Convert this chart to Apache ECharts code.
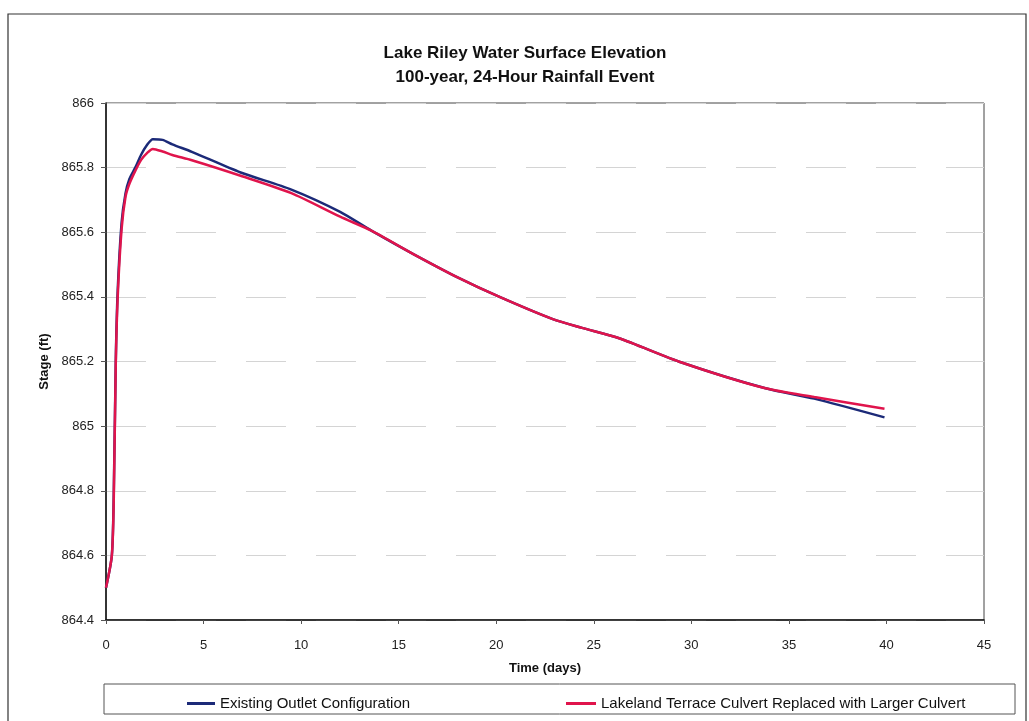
<!DOCTYPE html>
<html>
<head>
<meta charset="utf-8">
<script src="https://cdn.jsdelivr.net/npm/echarts@6/dist/echarts.min.js"></script>
<style>
html,body{margin:0;padding:0;background:#fff;}
#chart{width:1029px;height:721px;}
</style>
</head>
<body>
<div id="chart"></div>
<script>
var titleLines = ['Lake Riley Water Surface Elevation', '100-year, 24-Hour Rainfall Event'];
var xAxisName = 'Time (days)';
var yAxisName = 'Stage (ft)';
var seriesNames = ['Existing Outlet Configuration', 'Lakeland Terrace Culvert Replaced with Larger Culvert'];

var timeDays = [0, 0.3, 0.4, 0.5, 0.6, 0.8, 1.0, 1.2, 1.5, 1.8, 2.1, 2.4, 2.9, 3.4, 4.4, 6.9, 9.5, 12.0, 13.6, 15.8, 18.1, 20.2, 22.9, 24.4, 26.3, 29.5, 33.8, 36.3, 39.9];
var existingStage = [864.50, 864.60, 864.80, 865.20, 865.42, 865.63, 865.72, 865.765, 865.80, 865.84, 865.87, 865.888, 865.886, 865.872, 865.849, 865.785, 865.732, 865.663, 865.605, 865.531, 865.458, 865.399, 865.331, 865.304, 865.272, 865.197, 865.117, 865.085, 865.027];
var culvertStage = [864.50, 864.60, 864.78, 865.19, 865.40, 865.61, 865.71, 865.75, 865.79, 865.824, 865.845, 865.858, 865.85, 865.839, 865.823, 865.775, 865.721, 865.648, 865.605, 865.531, 865.458, 865.399, 865.331, 865.304, 865.272, 865.197, 865.117, 865.09, 865.054];

function pairs(xs, ys){ return xs.map(function(x,i){ return [x, ys[i]]; }); }

var FONT = 'Liberation Sans, Arial, sans-serif';
var chart = echarts.init(document.getElementById('chart'), null, {renderer:'canvas'});
chart.setOption({
  backgroundColor: '#fff',
  animation: false,
  textStyle: {fontFamily: FONT},
  title: {
    text: titleLines.join('\n'),
    left: 520, top: 36, textAlign: 'center',
    textStyle: {fontSize: 17, fontWeight: 'bold', color: '#111', lineHeight: 24, fontFamily: FONT}
  },
  grid: {left: 106, top: 103, width: 878, height: 517, show: true, borderColor: '#444', borderWidth: 1, containLabel: false},
  legend: [
    {data: [seriesNames[0]], left: 182, top: 691, icon: 'rect', itemWidth: 28, itemHeight: 3, itemGap: 3,
     textStyle: {fontSize: 15, color: '#111', fontFamily: FONT}},
    {data: [seriesNames[1]], left: 561, top: 691, icon: 'rect', itemWidth: 30, itemHeight: 3, itemGap: 3,
     textStyle: {fontSize: 15, color: '#111', fontFamily: FONT}}
  ],
  xAxis: {
    type: 'value', min: 0, max: 45, interval: 5,
    name: xAxisName, nameLocation: 'middle', nameGap: 42,
    nameTextStyle: {fontSize: 13, fontWeight: 'bold', color: '#111', fontFamily: FONT},
    axisLine: {lineStyle: {color: '#111', width: 1.5}},
    axisTick: {show: true, length: 4, inside: false, lineStyle: {color: '#555'}},
    axisLabel: {fontSize: 13, color: '#222', margin: 19, fontFamily: FONT},
    splitLine: {show: false}
  },
  yAxis: {
    type: 'value', min: 864.4, max: 866, interval: 0.2,
    name: yAxisName, nameLocation: 'middle', nameGap: 54, nameRotate: 90,
    nameTextStyle: {fontSize: 13, fontWeight: 'bold', color: '#111', fontFamily: FONT},
    axisLine: {lineStyle: {color: '#111', width: 1.5}},
    axisTick: {show: true, length: 5, lineStyle: {color: '#555'}},
    axisLabel: {fontSize: 13, color: '#222', margin: 12, fontFamily: FONT,
      formatter: function(v){ return String(Number(v.toFixed(1))); }},
    splitLine: {show: true, lineStyle: {color: '#d4d4d4', width: 1, type: [40, 30]}}
  },
  graphic: [
    {type: 'rect', shape: {x: 8, y: 14, width: 1018, height: 720}, style: {fill: 'none', stroke: '#333', lineWidth: 1.2}, silent: true, z: -1},
    {type: 'rect', shape: {x: 104, y: 684, width: 911, height: 30}, style: {fill: 'none', stroke: '#555', lineWidth: 1}, silent: true, z: -1}
  ],
  series: [
    {name: seriesNames[0], type: 'line', data: pairs(timeDays, existingStage), showSymbol: false, symbol: 'none',
     smooth: 0.25, lineStyle: {color: '#1c2a78', width: 2.5}, itemStyle: {color: '#1c2a78'}, z: 2},
    {name: seriesNames[1], type: 'line', data: pairs(timeDays, culvertStage), showSymbol: false, symbol: 'none',
     smooth: 0.25, lineStyle: {color: '#e0144c', width: 2.5}, itemStyle: {color: '#e0144c'}, z: 3}
  ]
});
</script>
</body>
</html>
